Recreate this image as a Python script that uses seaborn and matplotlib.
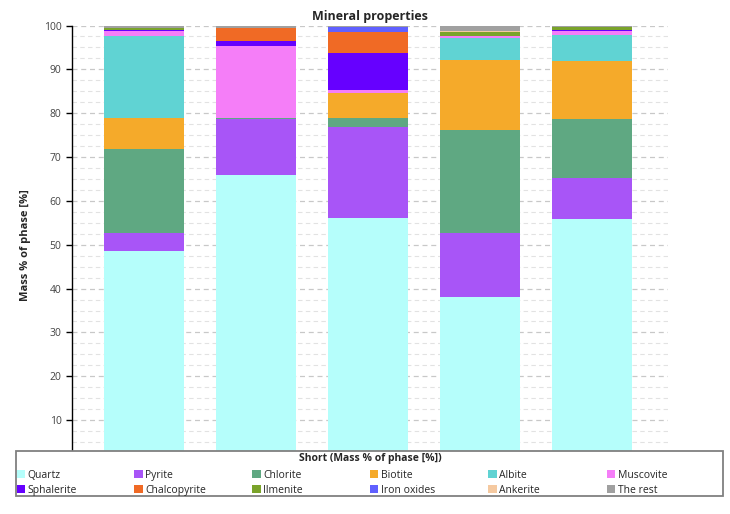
import matplotlib
matplotlib.use("Agg")
import matplotlib.pyplot as plt
import seaborn as sns
import numpy as np
import pandas as pd
from matplotlib.patches import Patch, Rectangle
from matplotlib.ticker import MultipleLocator

samples = ["S1", "S2", "S3", "S4", "S5"]
minerals = ["Quartz", "Pyrite", "Chlorite", "Biotite", "Albite", "Muscovite",
            "Sphalerite", "Chalcopyrite", "Ilmenite", "Iron oxides", "Ankerite", "The rest"]
colors = ["#b5fefb", "#a855f7", "#5fa882", "#f5aa2a", "#60d3d3", "#f57ef8",
          "#6600ff", "#f06a25", "#7aa32a", "#6060ff", "#f5c9a0", "#a0a0a0"]

quartz       = [48.6, 66.0, 56.0, 38.1, 55.8]
pyrite       = [4.0, 12.7, 20.8, 14.5, 9.5]
chlorite     = [19.3, 0.1, 2.2, 23.6, 13.3]
biotite      = [7.1, 0.2, 5.7, 16.0, 13.4]
albite       = [18.6, 0.0, 0.0, 5.0, 5.9]
muscovite    = [1.2, 16.4, 0.5, 0.5, 0.75]
sphalerite   = [0.2, 1.1, 8.5, 0.0, 0.3]
chalcopyrite = [0.0, 2.9, 4.8, 0.0, 0.0]
ilmenite     = [0.5, 0.0, 0.0, 0.75, 0.6]
iron_oxides  = [0.0, 0.0, 1.1, 0.0, 0.0]
ankerite     = [0.0, 0.0, 0.0, 0.35, 0.0]
the_rest     = [0.5, 0.6, 0.4, 1.2, 0.5]

series = [quartz, pyrite, chlorite, biotite, albite, muscovite,
          sphalerite, chalcopyrite, ilmenite, iron_oxides, ankerite, the_rest]

sns.set_style("white")
plt.rcParams['font.family'] = ['Open Sans', 'DejaVu Sans']

W, H = 730, 514
fig = plt.figure(figsize=(W / 100, H / 100), dpi=100)
ax = fig.add_axes([72 / W, 1 - 464 / H, (668 - 72) / W, (464 - 25.5) / H])

bottom = np.zeros(len(samples))
for name, vals, col in zip(minerals, series, colors):
    df = pd.DataFrame({"sample": samples, "value": vals})
    sns.barplot(data=df, x="sample", y="value", order=samples, bottom=bottom,
                color=col, width=80 / 112, linewidth=0, ax=ax, zorder=2,
                saturation=1, errorbar=None)
    bottom = bottom + np.array(vals)

ax.set_xlim(-72 / 112, 4 + 76 / 112)
ax.set_ylim(0, 100)
ax.yaxis.set_minor_locator(MultipleLocator(2.5))
ax.set_yticks(np.arange(10, 101, 10))
ax.grid(True, which="major", axis="y", color="#c8c8c8", linestyle=(0, (4, 3)), linewidth=0.9, zorder=0)
ax.grid(True, which="minor", axis="y", color="#e2e2e2", linestyle=(0, (4, 3)), linewidth=0.8, zorder=0)
ax.set_axisbelow(True)
ax.set_xticks([])
ax.set_xlabel("")
ax.set_ylabel("Mass % of phase [%]", fontsize=8, fontweight="bold", labelpad=9)
for s in ["top", "right", "bottom"]:
    ax.spines[s].set_visible(False)
ax.spines["left"].set_color("black")
ax.spines["left"].set_linewidth(1.0)
ax.tick_params(axis="y", which="major", direction="out", length=4, width=1,
               color="black", labelsize=7.5, labelcolor="#444444", left=True)
ax.tick_params(axis="y", which="minor", length=0)
ax.set_title("Mineral properties", fontsize=9, fontweight="bold", pad=4)

# legend box (overlays the bottom of the plot area)
box = Rectangle((15.5 / W, 1 - 495.5 / H), (722.5 - 15.5) / W, (495.5 - 450.5) / H,
                transform=fig.transFigure, facecolor="white", edgecolor="#808080",
                linewidth=1.3, zorder=5)
fig.add_artist(box)
fig.text(370.5 / W, 1 - 458.3 / H, "Short (Mass % of phase [%])", ha="center", va="center",
         fontsize=7.5, fontweight="bold", zorder=6)

col_x = [16.7, 134.3, 252.3, 370.0, 488.3, 606.7]
ncol = 6
for c in range(ncol):
    idx = [c, c + ncol]
    hs = [Patch(facecolor=colors[i], edgecolor="none") for i in idx]
    ls = [minerals[i] for i in idx]
    lg = fig.legend(hs, ls, loc="upper left", bbox_to_anchor=(col_x[c] / W, 1 - 470.0 / H),
                    frameon=False, fontsize=7.5, handlelength=0.8, handleheight=0.8,
                    handletextpad=0.25, borderpad=0, borderaxespad=0, labelspacing=0.35)
    lg.set_zorder(7)

fig.savefig("out.png", dpi=100)
